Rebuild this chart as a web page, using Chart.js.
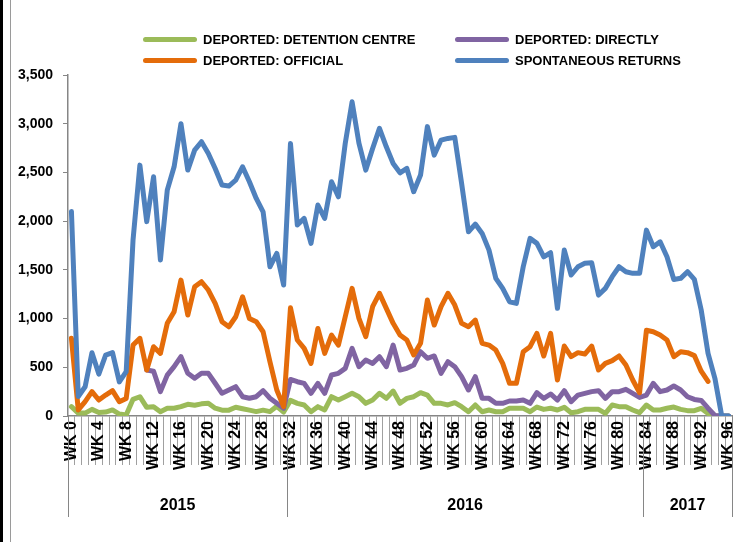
<!DOCTYPE html>
<html><head><meta charset="utf-8">
<script src="https://cdn.jsdelivr.net/npm/chart.js@4.4.1/dist/chart.umd.min.js"></script>
<style>
html,body{margin:0;padding:0;background:#fff;}
#wrap{position:relative;width:736px;height:542px;overflow:hidden;background:#fff;}
canvas{position:absolute;left:0;top:0;}
#legend{position:absolute;left:143px;top:29px;display:grid;grid-template-columns:312px 250px;font:bold 13px "Liberation Sans",Arial,sans-serif;color:#000;}
.item{display:flex;align-items:center;height:21px;white-space:nowrap;}
.sw{width:54px;height:5px;border-radius:3px;margin-right:6px;}
#edgeA{position:absolute;left:0;top:0;width:3px;height:542px;background:#000;}
#edgeB{position:absolute;left:10px;top:0;width:1px;height:542px;background:#9a9a9a;}
</style></head>
<body><div id="wrap"><canvas id="c" width="736" height="542"></canvas><div id="legend"></div><div id="edgeA"></div><div id="edgeB"></div></div>
<script>
// categories: weeks WK 0 .. WK 96
const weeks = Array.from({length: 97}, (_, i) => 'WK ' + i);
const years = ['2015', '2016', '2017'];
const yearFirstWeek = [0, 32, 84];
const yTicks = [0, 500, 1000, 1500, 2000, 2500, 3000, 3500];

const seriesNames = ['DEPORTED: DETENTION CENTRE', 'DEPORTED: DIRECTLY', 'DEPORTED: OFFICIAL', 'SPONTANEOUS RETURNS'];

const detentionCentre = [96,30,30,68,35,40,62,20,10,171,198,89,96,44,79,79,96,120,110,125,130,80,60,60,90,75,60,45,60,45,100,40,
  160,130,113,44,96,62,198,164,198,233,198,130,164,233,181,256,130,181,198,239,215,130,130,113,137,96,44,113,44,62,44,44,79,79,
  79,44,92,68,79,62,89,34,44,68,68,68,27,113,96,96,62,34,113,62,62,79,92,68,55,55,79,25,0,0,0];

const directly = [null,null,null,null,null,null,null,null,null,null,null,472,460,250,420,506,609,438,387,438,438,336,233,267,301,198,182,198,260,182,130,80,
  375,352,335,233,335,233,421,438,489,694,506,575,540,609,506,728,472,489,523,660,592,616,438,557,506,404,267,404,181,181,130,130,154,154,
  164,130,239,181,226,164,260,147,215,233,250,260,181,250,250,274,233,191,215,335,250,267,308,267,198,170,160,80,5,0,0];

const official = [797,62,147,250,164,215,260,147,180,728,797,472,711,643,951,1070,1395,1036,1327,1378,1293,1156,968,916,1019,1224,1002,968,865,557,267,96,
  1110,780,694,540,899,643,831,728,1019,1310,1002,814,1122,1259,1105,951,831,780,626,746,1190,934,1122,1259,1139,951,916,985,746,728,677,540,335,335,
  660,711,848,616,848,369,718,609,650,636,718,472,540,568,616,523,369,239,880,865,831,780,609,660,650,620,460,355,null,null,null];

const spontaneous = [2100,200,300,650,430,625,650,350,455,1806,2575,1995,2455,1600,2318,2558,3000,2524,2729,2815,2695,2541,2370,2360,2421,2558,2404,2233,2096,1532,1669,1344,
  2798,1960,2028,1772,2165,2028,2404,2250,2798,3225,2800,2524,2746,2952,2763,2592,2496,2541,2302,2473,2970,2678,2832,2849,2860,2387,1891,1970,1874,1703,1413,1310,1173,1156,
  1532,1823,1772,1634,1676,1105,1703,1447,1532,1567,1573,1241,1310,1430,1532,1481,1464,1464,1908,1737,1788,1634,1402,1413,1481,1402,1088,643,387,0,0];

const colors = ['#9BBB59', '#8064A2', '#E46C0A', '#4F81BD'];
const values = [detentionCentre, directly, official, spontaneous];

const FONT = "'Liberation Sans', Arial, sans-serif";
const AXIS = '#868686';

const yearGroups = {
  id: 'yearGroups',
  afterDraw(chart) {
    const xs = chart.scales.x, ctx = chart.ctx, a = chart.chartArea;
    const half = (xs.getPixelForValue(1) - xs.getPixelForValue(0)) / 2;
    const bounds = yearFirstWeek.map(i => xs.getPixelForValue(i) - half)
      .concat([xs.getPixelForValue(weeks.length - 1) + half]);
    ctx.save();
    ctx.strokeStyle = AXIS; ctx.lineWidth = 1;
    bounds.forEach(x => {
      const px = Math.round(x) + 0.5;
      ctx.beginPath(); ctx.moveTo(px, a.bottom); ctx.lineTo(px, 517); ctx.stroke();
    });
    ctx.fillStyle = '#000';
    ctx.font = 'bold 16px ' + FONT;
    ctx.textAlign = 'center'; ctx.textBaseline = 'middle';
    years.forEach((y, k) => ctx.fillText(y, (bounds[k] + bounds[k + 1]) / 2, 506));
    ctx.restore();
  }
};

const chart = new Chart(document.getElementById('c'), {
  type: 'line',
  data: {
    labels: weeks,
    datasets: values.map((v, k) => ({
      label: seriesNames[k],
      data: v,
      borderColor: colors[k],
      backgroundColor: colors[k],
      borderWidth: 5,
      pointRadius: 0,
      pointHoverRadius: 0,
      tension: 0,
      fill: false,
      borderJoinStyle: 'round',
      borderCapStyle: 'round',
      order: 3 - k
    }))
  },
  options: {
    responsive: false,
    devicePixelRatio: 1,
    animation: false,
    locale: 'en-US',
    layout: { padding: { top: 75, left: 0, right: 4, bottom: 0 } },
    plugins: { legend: { display: false }, tooltip: { enabled: false } },
    scales: {
      x: {
        type: 'category',
        offset: true,
        border: { display: true, color: AXIS, width: 1.5 },
        grid: { offset: true, drawOnChartArea: false, drawTicks: true, tickLength: 49, color: '#a0a0a0', lineWidth: 1 },
        ticks: {
          autoSkip: false, minRotation: 90, maxRotation: 90, padding: -44,
          color: '#000', font: { family: FONT, size: 16, weight: 'bold' },
          callback: (val, i) => (i % 4 === 0 ? weeks[i] : '')
        },
        afterFit: s => { s.height = 126; s.paddingLeft = 0; s.paddingRight = 0; }
      },
      y: {
        min: 0, max: 3500,
        border: { display: true, color: AXIS, width: 1.5 },
        grid: { drawOnChartArea: false, drawTicks: true, tickLength: 5, color: AXIS },
        afterBuildTicks: s => { s.ticks = yTicks.map(v => ({ value: v })); },
        ticks: {
          padding: 10, color: '#000', font: { family: FONT, size: 14, weight: 'bold' },
          callback: v => v.toLocaleString('en-US')
        },
        afterFit: s => { s.width = 68; s.paddingTop = 0; s.paddingBottom = 0; }
      }
    }
  },
  plugins: [yearGroups]
});

// HTML legend built from the datasets
const leg = document.getElementById('legend');
chart.data.datasets.forEach(ds => {
  const it = document.createElement('div'); it.className = 'item';
  const sw = document.createElement('span'); sw.className = 'sw'; sw.style.background = ds.borderColor;
  const tx = document.createElement('span'); tx.textContent = ds.label;
  it.appendChild(sw); it.appendChild(tx); leg.appendChild(it);
});
</script>
</body></html>
